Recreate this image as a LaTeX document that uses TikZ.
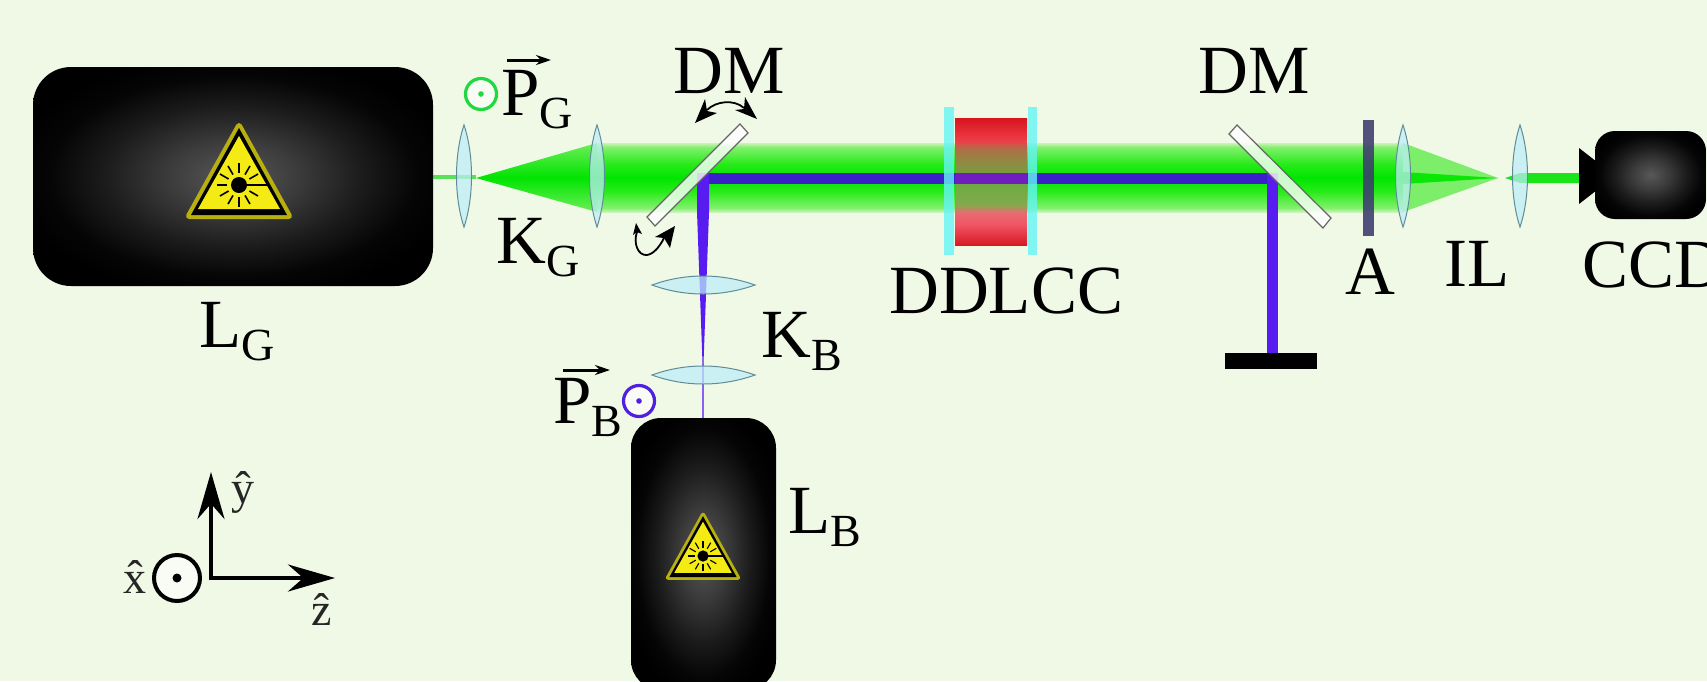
\documentclass[tikz,border=0pt]{standalone}
\usepackage{fontspec}
\setmainfont{Liberation Serif}
\usetikzlibrary{arrows.meta,shapes.geometric}
\definecolor{bgc}{RGB}{240,248,230}
\definecolor{lensc}{RGB}{190,238,250}
\definecolor{lensd}{RGB}{95,140,150}
\definecolor{bluev}{RGB}{88,28,240}
\definecolor{blueh}{RGB}{58,32,200}
\definecolor{cyanb}{RGB}{100,245,245}
\definecolor{signy}{RGB}{245,235,20}
\definecolor{gpale}{RGB}{205,242,185}
\definecolor{gedge}{RGB}{130,240,110}
\definecolor{gmid}{RGB}{40,235,25}
\definecolor{gcore}{RGB}{0,230,0}
\definecolor{cedge}{RGB}{110,238,90}
\definecolor{ccore}{RGB}{0,228,0}
\definecolor{conel}{RGB}{125,238,105}
\definecolor{conem}{RGB}{10,230,5}
\definecolor{gbeam}{RGB}{25,228,25}
\definecolor{gthin}{RGB}{90,225,90}
\definecolor{ra}{RGB}{215,25,35}
\definecolor{rb}{RGB}{240,85,100}
\definecolor{rc}{RGB}{235,105,115}
\definecolor{rd}{RGB}{130,170,75}
\definecolor{re}{RGB}{105,170,62}
\definecolor{rf}{RGB}{175,110,70}
\definecolor{rg}{RGB}{238,62,72}
\definecolor{rh}{RGB}{215,20,30}
\definecolor{purp}{RGB}{112,30,190}
\definecolor{anal}{RGB}{60,60,110}
\definecolor{gya}{RGB}{88,88,88}
\definecolor{gyb}{RGB}{60,60,60}
\definecolor{gyc}{RGB}{28,28,28}
\definecolor{gyd}{RGB}{5,5,5}
\definecolor{polg}{RGB}{32,216,64}
\definecolor{polb}{RGB}{80,32,224}
\pgfdeclareverticalshading{beamgreen}{100bp}{
 color(0bp)=(gpale); color(25bp)=(gpale); color(28bp)=(gedge);
 color(40bp)=(gmid); color(50bp)=(gcore);
 color(60bp)=(gmid); color(72bp)=(gedge);
 color(75bp)=(gpale); color(100bp)=(gpale)}
\pgfdeclareverticalshading{conegreen}{100bp}{
 color(0bp)=(cedge); color(25bp)=(cedge);
 color(50bp)=(ccore);
 color(75bp)=(cedge); color(100bp)=(cedge)}
\pgfdeclareverticalshading{cellred}{100bp}{
 color(0bp)=(ra); color(25bp)=(ra);
 color(33bp)=(rb); color(37.5bp)=(rc);
 color(41bp)=(rd); color(51bp)=(re);
 color(63bp)=(rf); color(66bp)=(rg);
 color(75bp)=(rh); color(100bp)=(rh)}
\pgfdeclareradialshading{boxglow}{\pgfpointorigin}{
 color(0bp)=(gya); color(8bp)=(gyb);
 color(16bp)=(gyc); color(23bp)=(gyd); color(28bp)=(black); color(50bp)=(black)}
\tikzset{
 lbl/.style={inner sep=0pt,anchor=base west,font=\fontsize{69}{69}\selectfont,text=black},
 hatlbl/.style={inner sep=0pt,anchor=base,font=\fontsize{46}{46}\selectfont,text=black!85},
 box/.style={shading=boxglow,rounded corners=#1},
 lens/.style={fill=lensc,fill opacity=.72,draw=lensd,line width=1pt},
 mirror/.style={fill=white,fill opacity=.8,draw=black!60,line width=1.2pt},
 vec/.style={-{Stealth[length=15pt,width=10pt]},line width=3pt,black},
 turnline/.style={line width=1.8pt,black},
 turnhead/.style={fill=black,draw=none},
 cyanbar/.style={fill=cyanb,fill opacity=.8,draw=none}
}
\newcommand{\sbs}[1]{\raisebox{-13.5pt}{\fontsize{46}{46}\selectfont #1}}
\newcommand{\vlens}[1]{\path[lens] (#1,125) .. controls (#1-10,155) and (#1-10,197) .. (#1,227) .. controls (#1+10,197) and (#1+10,155) .. (#1,125) -- cycle;}
\newcommand{\hlens}[1]{\path[lens] (652,#1) .. controls (685,#1-12) and (721,#1-12) .. (755,#1) .. controls (721,#1+12) and (685,#1+12) .. (652,#1) -- cycle;}
\newcommand{\lasersign}[3]{%
 \begin{scope}[shift={(#1,#2)},scale=#3]
  \path[fill=signy!75!black,draw=signy!75!black,line width=6pt*#3,line join=round] (0,-59) -- (50,31) -- (-50,31) -- cycle;
  \path[fill=black] (0,-57) -- (48,30) -- (-48,30) -- cycle;
  \path[fill=signy] (0,-49) -- (41,24) -- (-41,24) -- cycle;
  \foreach \a in {0,30,60,...,330}{\draw[black,line width=1.6pt*#3] (\a:12) -- (\a:22);}
  \draw[black,line width=2.6pt*#3] (0,0) -- (31,0);
  \fill[black] (0,0) circle (8);
 \end{scope}}
\begin{document}
\begin{tikzpicture}[x=1pt,y=-1pt]
\useasboundingbox (0,0) rectangle (1707,681);
\fill[bgc] (0,0) rectangle (1707,681);

% green beam
\path[shading=beamgreen] (597,143) rectangle (1403,212);
\path[shading=conegreen] (476,178) -- (597,143) -- (597,212) -- cycle;
\draw[gthin,line width=3.5pt] (433,177) -- (476,177);
\fill[conel] (1403,143) -- (1498,178) -- (1403,212) -- cycle;
\fill[conem] (1403,172) -- (1498,178) -- (1403,184) -- cycle;
\fill[gbeam] (1505,178) -- (1520,173) -- (1580,173) -- (1580,183) -- (1520,183) -- cycle;

% blue beam
\draw[blueh,line width=11pt] (703,178) -- (1272,178);
\draw[bluev,line width=11pt] (1272,172.5) -- (1272,353);
\fill[bluev] (697,173) -- (709,173) -- (709,212) -- (703.5,363) -- (702.5,363) -- (697,212) -- cycle;
\draw[bluev!70!white,line width=2.5pt] (703,363) -- (703,418);

% liquid crystal cell
\path[shading=cellred] (955,118) rectangle (1027,245);
\fill[purp] (955,173) rectangle (1027,184);
\path[cyanbar] (944,107) rectangle (954,255);
\path[cyanbar] (1028,107) rectangle (1037,255);

% analyser
\fill[anal,opacity=.88] (1363,120) rectangle (1374,236);

% lenses
\vlens{464}\vlens{597}\vlens{1403}\vlens{1520}
\hlens{285}\hlens{375}

% mirrors
\path[mirror] (740,124) -- (748,133) -- (655,226) -- (647,217) -- cycle;
\path[mirror] (1237,125) -- (1331,218) -- (1323,228) -- (1229,134) -- cycle;

% end stop
\fill[black] (1225,353) rectangle (1317,369);

% lasers
\path[box=38pt] (33,67) rectangle (433,286);
\lasersign{239}{185}{1}
\path[box=30pt] (631,418) rectangle (776,690);
\lasersign{703}{556}{.7}

% camera
\fill[black] (1579,148) -- (1597,162) -- (1597,190) -- (1579,204) -- cycle;
\path[box=20pt] (1595,131) rectangle (1706,219);

% polarisation marks
\draw[polg,line width=3.2pt,fill=white!60!bgc] (481,94) circle (15.5);
\fill[polg] (481,94) circle (2.8);
\draw[polb,line width=3.2pt,fill=white!60!bgc] (639,401) circle (15.5);
\fill[polb] (639,401) circle (2.8);

% tilt arrows
\draw[turnline] (707,110) .. controls (716,101) and (734,99) .. (744,108);
\fill[turnhead] (695,123) -- (705,99) -- (707,111) -- (717,113) -- cycle;
\fill[turnhead] (757,119) -- (745,97) -- (744,109) -- (735,110) -- cycle;
\draw[turnline] (637,232) .. controls (633,243) and (638,256) .. (647,255) .. controls (654,254) and (660,246) .. (664,238);
\fill[turnhead] (636,223) -- (633,235) -- (637,232) -- (642,234) -- cycle;
\fill[turnhead] (675,226) -- (655,237) -- (664,238) -- (670,248) -- cycle;

% axes
\coordinate (origin) at (211,578);
\coordinate (yend) at (211,472);
\coordinate (zend) at (335,578);
\draw[line width=4pt,-{Stealth[length=47pt,width=27pt]}] (origin) -- (yend);
\draw[line width=4pt,-{Stealth[length=47pt,width=27pt]}] ([xshift=-2pt]origin) -- (zend);
\draw[line width=4pt,fill=white!60!bgc] (177,578) circle (23);
\fill (177,578) circle (4.5);
\node[hatlbl] (hx) at (135,593) {\^x};
\node[hatlbl] (hy) at (243,503) {\^y};
\node[hatlbl] (hz) at (322,625) {\^z};

% labels
\node[lbl] (lg) at (199,347) {L\sbs{G}};
\node[lbl] (pg) at (501,115) {P\sbs{G}};
\draw[vec] (507,60) -- (551,60);
\node[lbl] (kg) at (496,263) {K\sbs{G}};
\node[lbl] (dma) at (673,93) {DM};
\node[lbl] (cell) at (889,313) {DDLCC};
\node[lbl] (kb) at (761,357) {K\sbs{B}};
\node[lbl] (dmb) at (1198,93) {DM};
\node[lbl] (an) at (1345,294) {A};
\node[lbl] (il) at (1444,286) {IL};
\node[lbl] (ccd) at (1582,287) {CCD};
\node[lbl] (pb) at (553,423) {P\sbs{B}};
\draw[vec] (563,370) -- (610,370);
\node[lbl] (lb) at (788,533) {L\sbs{B}};
\end{tikzpicture}
\end{document}
